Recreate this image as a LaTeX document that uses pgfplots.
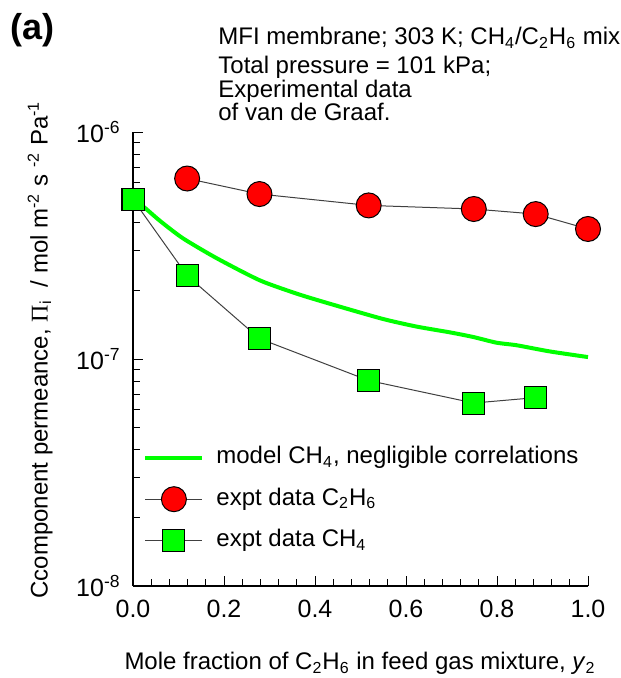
\documentclass[border=0pt]{standalone}
\usepackage{fontspec}
\setmainfont{Liberation Sans}
\newfontfamily\serif{Liberation Serif}
\usepackage{pgfplots}
\pgfplotsset{compat=1.18}

\definecolor{brightgreen}{HTML}{00FF00}
\definecolor{brightred}{HTML}{FF0000}

\begin{document}
\begin{tikzpicture}
\fontsize{12pt}{14pt}\selectfont
\useasboundingbox (-66.5pt,-46pt) rectangle (243.5pt,293pt);
\begin{axis}[
  at={(0pt,0pt)}, anchor=south west,
  scale only axis, width=227.5pt, height=227pt,
  axis lines=left, axis line style={line width=0.6pt, -},
  axis on top=false, clip=false,
  xmin=0, xmax=1, ymode=log, ymin=1e-8, ymax=1e-6,
  xtick={0,0.2,0.4,0.6,0.8,1.0},
  xticklabels={0.0,0.2,0.4,0.6,0.8,1.0},
  minor x tick num=4,
  ytick={1e-8,1e-7,1e-6},
  yticklabels={10\textsuperscript{-8},10\textsuperscript{-7},10\textsuperscript{-6}},
  tick align=inside,
  major tick length=5pt, minor tick length=3.5pt,
  tick style={line width=0.5pt, black},
  xticklabel style={font=\fontsize{12.5pt}{14pt}\selectfont, yshift=-3pt},
  yticklabel style={font=\fontsize{12.5pt}{14pt}\selectfont, xshift=-2pt},
  xlabel={Mole fraction of C\textsubscript{2}H\textsubscript{6} in feed gas mixture, \textit{y}\textsubscript{2}},
  xlabel style={at={(rel axis cs:0.499,-0.17)}, anchor=center, font=\fontsize{12pt}{14pt}\selectfont},
  ylabel={Ccomponent permeance, {\serif Π}\textsubscript{i}\ \ / mol m\textsuperscript{-2} s \textsuperscript{-2} Pa\textsuperscript{-1}},
  ylabel style={at={(rel axis cs:-0.204,0.52)}, anchor=center, rotate=0, font=\fontsize{12pt}{14pt}\selectfont},
  legend cell align=left,
  legend style={draw=none, fill=none, at={(rel axis cs:0.022,0.31)}, anchor=north west,
    inner sep=0pt, row sep=8.5pt,
    nodes={inner sep=0pt, text height=9pt, text depth=3pt, font=\fontsize{12pt}{14pt}\selectfont},
    column sep=6pt},
  legend image code/.code={
    \draw[mark repeat=2,mark phase=2,#1] plot coordinates {(0pt,0pt) (14.25pt,0pt) (28.5pt,0pt)};
  },
]
% model curve for CH4 with negligible correlations
\addplot[brightgreen, line width=2pt, no markers, smooth, tension=0.4] coordinates {
  (0.0,5.05e-7) (0.023,4.69e-7) (0.06,4.05e-7) (0.11,3.40e-7) (0.184,2.78e-7) (0.279,2.22e-7)
  (0.367,1.92e-7) (0.455,1.70e-7) (0.55,1.50e-7) (0.623,1.39e-7) (0.697,1.31e-7)
  (0.748,1.25e-7) (0.799,1.18e-7) (0.843,1.15e-7) (0.916,1.08e-7) (1.0,1.02e-7)
};
\addlegendentry{model CH\textsubscript{4}, negligible correlations}
% experimental C2H6 permeances
\addplot[black!75, line width=0.5pt, mark=*, mark size=6.25pt,
  mark options={fill=brightred, draw=black, line width=0.5pt}] coordinates {
  (0.119,6.24e-7) (0.278,5.33e-7) (0.518,4.75e-7) (0.749,4.58e-7) (0.885,4.35e-7) (1.0,3.74e-7)
};
\addlegendentry{expt data C\textsubscript{2}H\textsubscript{6}}
% experimental CH4 permeances
\addplot[black!75, line width=0.5pt, mark=square*, mark size=5.5pt,
  mark options={fill=brightgreen, draw=black, line width=0.5pt}] coordinates {
  (0.0,5.05e-7) (0.119,2.33e-7) (0.278,1.23e-7) (0.518,8.04e-8) (0.749,6.40e-8) (0.885,6.76e-8)
};
\addlegendentry{expt data CH\textsubscript{4}}
\end{axis}
\node[anchor=west, inner sep=0pt, font=\bfseries\fontsize{18pt}{20pt}\selectfont] at (-61.5pt,278pt) {(a)};
\begin{scope}[every node/.style={anchor=base west, inner sep=0pt, font=\fontsize{12pt}{14pt}\selectfont}]
\node at (42.5pt,270.5pt) {MFI membrane; 303 K; CH\textsubscript{4}/C\textsubscript{2}H\textsubscript{6} mix};
\node at (42.5pt,256pt) {Total pressure = 101 kPa;};
\node at (42.5pt,244pt) {Experimental data};
\node at (42.5pt,232.5pt) {of van de Graaf.};
\end{scope}
\end{tikzpicture}
\end{document}
